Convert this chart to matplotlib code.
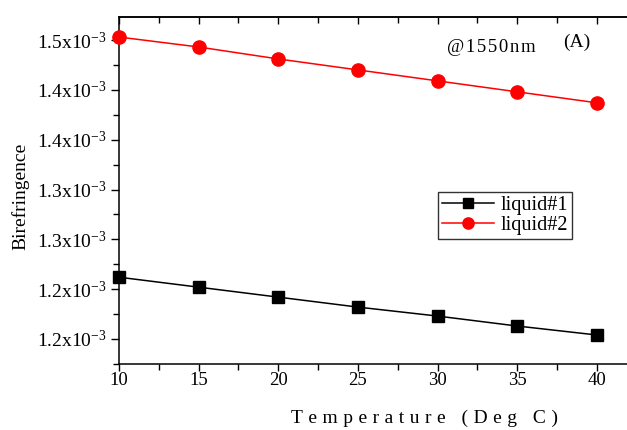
import matplotlib
matplotlib.use("Agg")
import matplotlib.pyplot as plt
from matplotlib.ticker import FixedLocator, MultipleLocator, FixedFormatter, NullFormatter

plt.rcParams['font.family'] = ['Liberation Serif', 'DejaVu Serif']
plt.rcParams['mathtext.fontset'] = 'custom'
plt.rcParams['mathtext.rm'] = 'Liberation Serif'
plt.rcParams['mathtext.default'] = 'regular'

temperature = [10, 15, 20, 25, 30, 35, 40]
liquid1 = [1.262, 1.252, 1.242, 1.232, 1.223, 1.213, 1.204]   # x1e-3
liquid2 = [1.503, 1.493, 1.481, 1.470, 1.459, 1.448, 1.437]   # x1e-3
ytick_values = [1.20, 1.25, 1.30, 1.35, 1.40, 1.45, 1.50]
ytick_labels = ['1.2', '1.2', '1.3', '1.3', '1.4', '1.4', '1.5']
xtick_values = [10, 15, 20, 25, 30, 35, 40]

W, H = 627, 430


def spaced(s, sep='\u2009'):
    return sep.join(s)


fig = plt.figure(figsize=(6.27, 4.30), dpi=100)
ax = fig.add_axes([119 / W, 66 / H, 32.5 * 15.93 / W, 347 / H])

ax.plot(temperature, liquid1, color='black', marker='s', markersize=8,
        linewidth=1.1, label='liquid#1', clip_on=False, zorder=3)
ax.plot(temperature, liquid2, color='red', marker='o', markersize=9.5,
        linewidth=1.1, label='liquid#2', clip_on=False, zorder=3)

ax.set_xlim(10, 42.5)
ax.set_ylim(1.1749, 1.5231)

ax.xaxis.set_major_locator(FixedLocator(xtick_values))
ax.xaxis.set_minor_locator(MultipleLocator(2.5))
ax.yaxis.set_major_locator(FixedLocator(ytick_values))
ax.yaxis.set_minor_locator(MultipleLocator(0.025))
ax.yaxis.set_major_formatter(FixedFormatter(
    [r'$%s\mathrm{x}10^{-3}$' % l for l in ytick_labels]))

ax.spines['right'].set_visible(False)
for sp in ax.spines.values():
    sp.set_linewidth(1.1)

ax.tick_params(axis='x', which='both', bottom=True, top=False, direction='out',
               labelsize=13.5, width=1.0, pad=1)
ax.tick_params(axis='x', which='major', length=5)
ax.tick_params(axis='x', which='minor', length=4)
ax.tick_params(axis='y', which='both', left=True, right=False, direction='out',
               labelsize=14, width=1.0, pad=3)
ax.tick_params(axis='y', which='major', length=6)
ax.tick_params(axis='y', which='minor', length=4)

top = ax.secondary_xaxis('top')
top.xaxis.set_major_locator(FixedLocator(xtick_values))
top.xaxis.set_minor_locator(MultipleLocator(2.5))
top.xaxis.set_major_formatter(NullFormatter())
top.tick_params(axis='x', which='both', direction='in', width=1.0)
top.tick_params(axis='x', which='major', length=5)
top.tick_params(axis='x', which='minor', length=4)
top.spines['top'].set_linewidth(1.1)

fig.text(425 / W, 1 - 418 / H, spaced('Temperature (Deg C)', '\u2009\u200a'),
         fontsize=14, ha='center', va='center')
fig.text(20 / W, 1 - 196 / H, 'Birefringence', fontsize=14, rotation=90,
         ha='center', va='center')

fig.text(447 / W, 1 - 48 / H, spaced('@1550nm', '\u200a'), fontsize=13.5,
         va='center', ha='left')
fig.text(563 / W, 1 - 42 / H, '(A)', fontsize=14, va='center', ha='left')

leg = ax.legend(loc='upper left', bbox_to_anchor=(438 / W, 1 - 192 / H),
                bbox_transform=fig.transFigure, fontsize=14.5, frameon=True,
                fancybox=False, edgecolor='black', handlelength=2.6,
                handletextpad=0.3, borderpad=0.2, labelspacing=0.05,
                borderaxespad=0, markerscale=0.85)
leg.get_frame().set_linewidth(1.0)

fig.savefig('out.png', dpi=100)
